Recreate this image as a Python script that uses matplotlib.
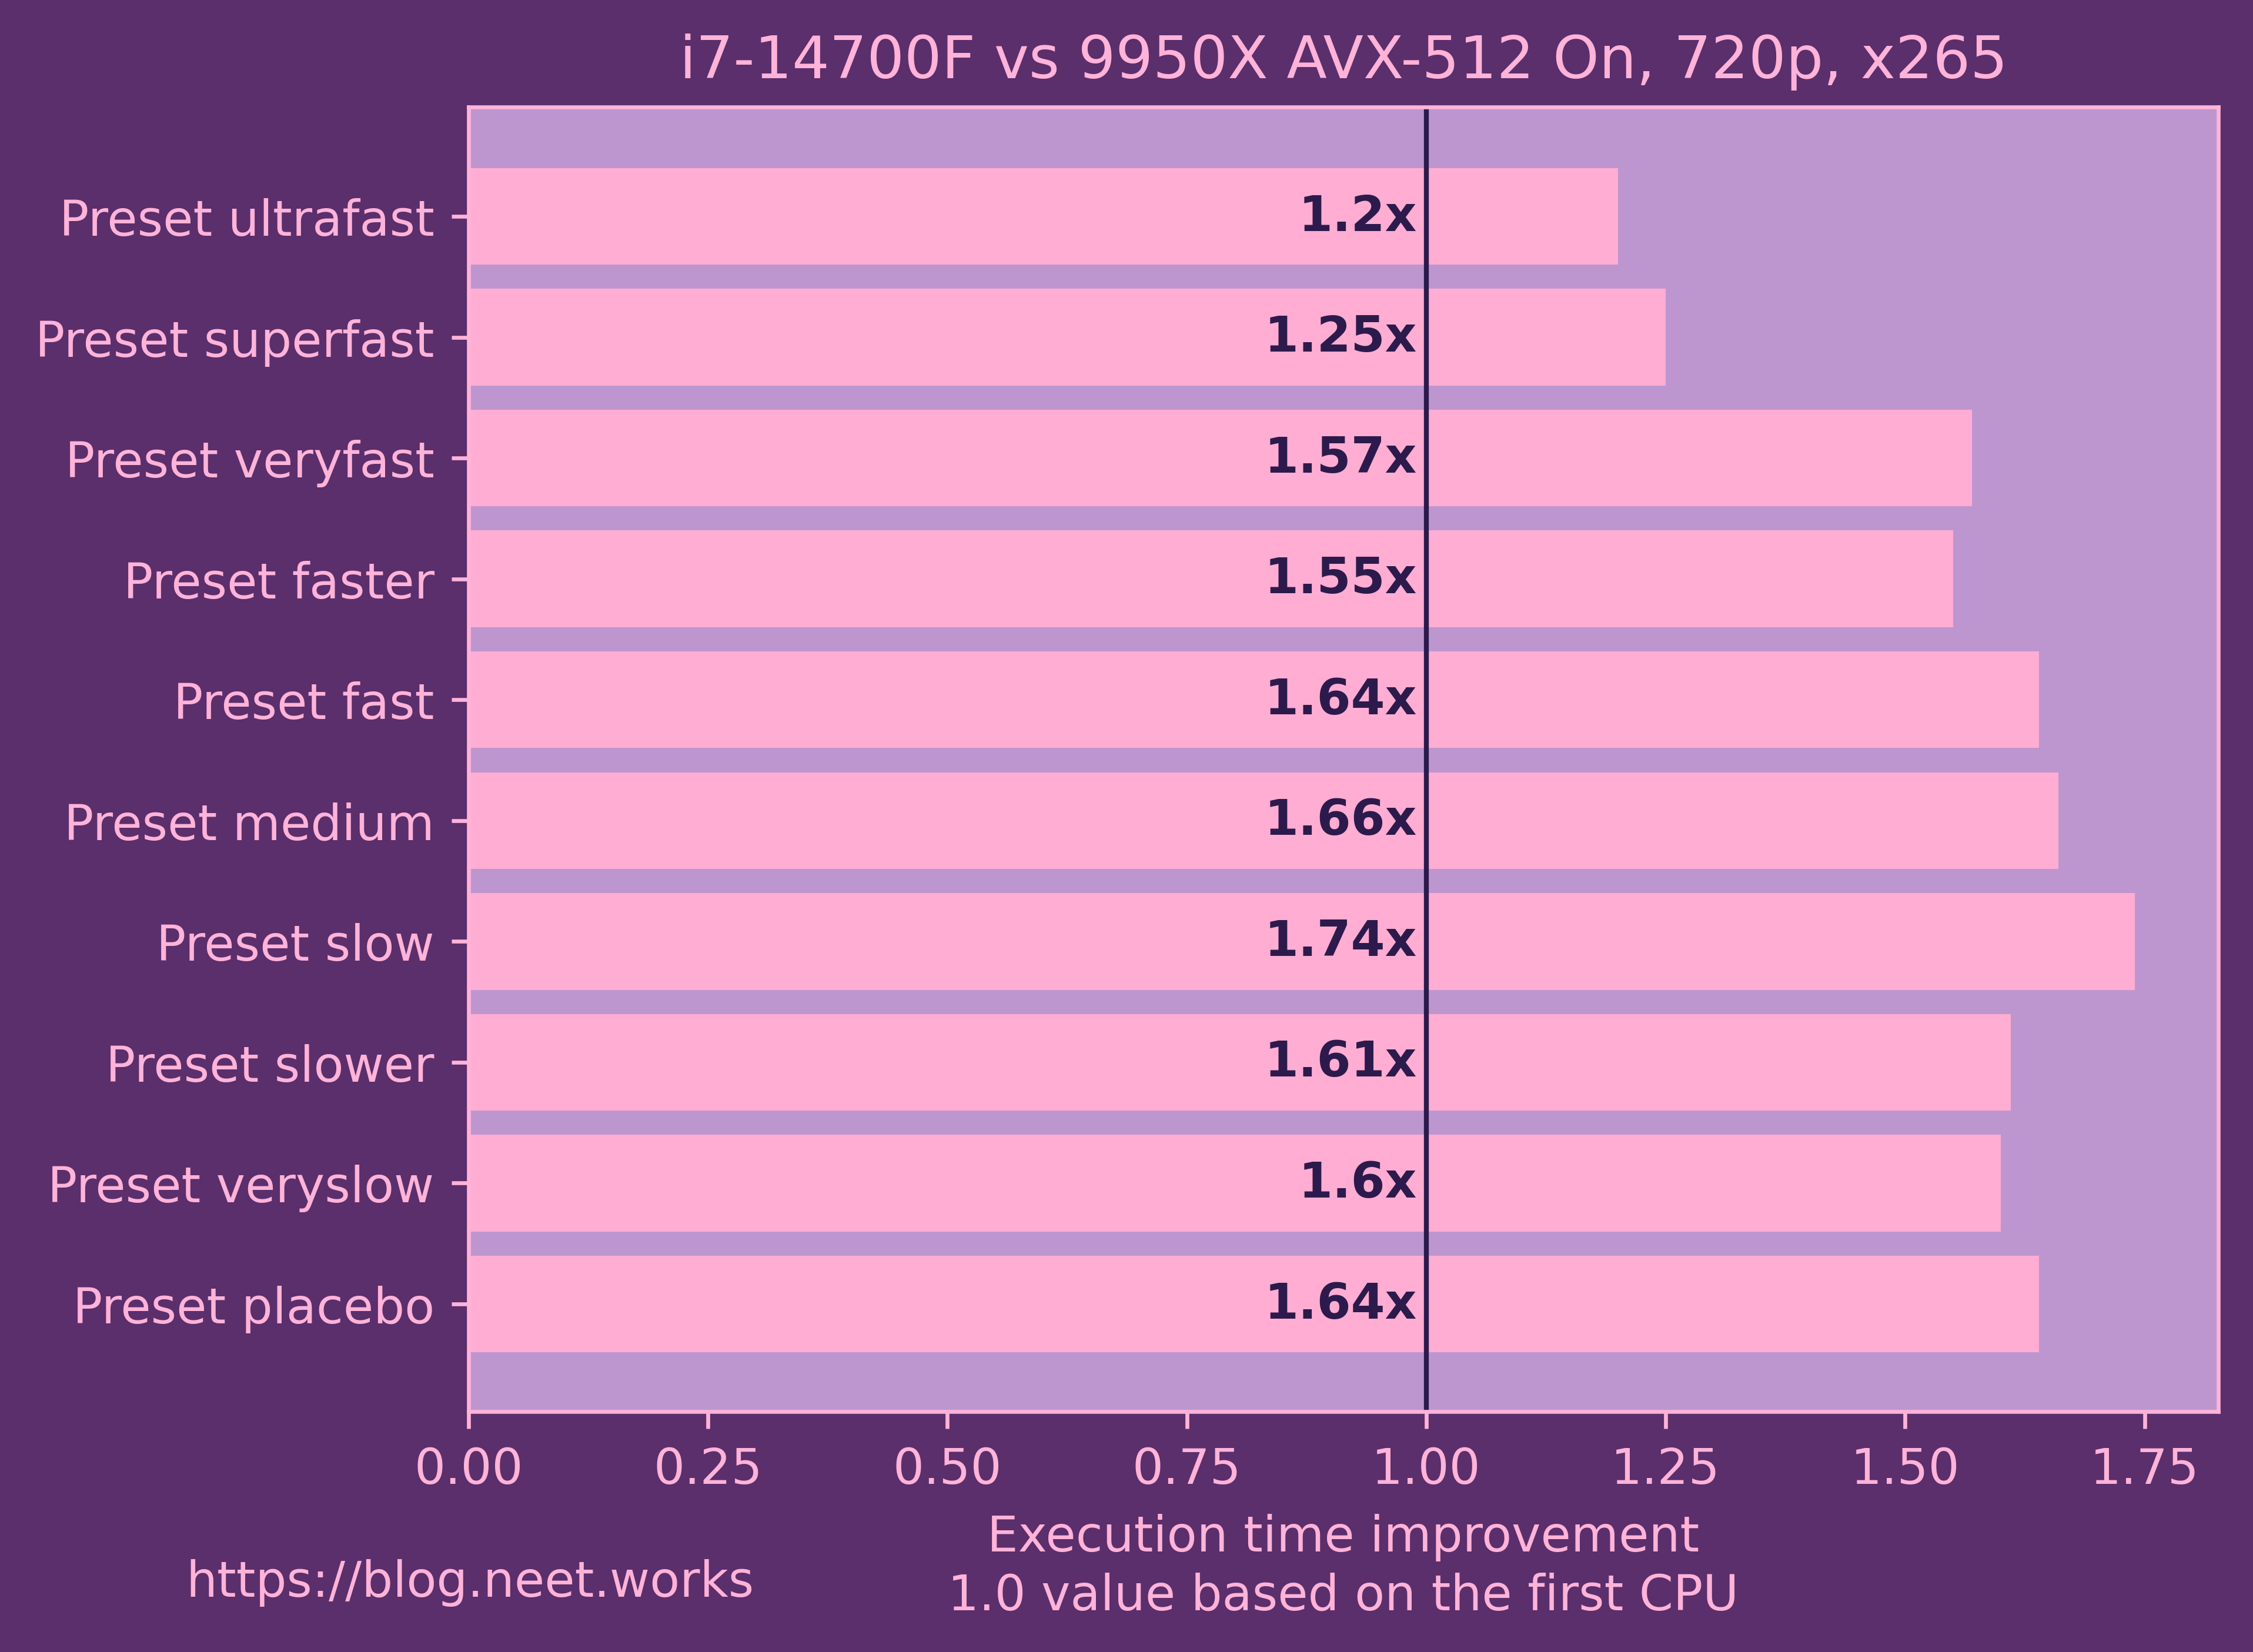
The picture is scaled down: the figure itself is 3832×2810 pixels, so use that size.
"""
x265 preset comparison: i7-14700F vs 9950X (AVX-512 on), 720p
"""

import matplotlib.pyplot as plt

presets = ['Preset ultrafast', 'Preset superfast', 'Preset veryfast',
           'Preset faster', 'Preset fast', 'Preset medium', 'Preset slow',
           'Preset slower', 'Preset veryslow', 'Preset placebo']
improvement = [1.2, 1.25, 1.57, 1.55, 1.64, 1.66, 1.74, 1.61, 1.6, 1.64]
bar_labels = ['1.2x', '1.25x', '1.57x', '1.55x', '1.64x', '1.66x', '1.74x',
              '1.61x', '1.6x', '1.64x']

BG = '#5b2e6c'
FACE = '#be96cf'
BAR = '#ffadd2'
TEXT = '#ffb3d8'
DARK = '#2c1a4c'

plt.rcParams['font.family'] = 'DejaVu Sans'

fig = plt.figure(figsize=(3832 / 600, 2811 / 600), dpi=600, facecolor=BG)
ax = fig.add_axes([0.208, 0.1455, 0.7766, 0.7894])
ax.set_facecolor(FACE)

ypos = list(range(len(presets)))
ax.barh(ypos, improvement, height=0.8, color=BAR)
ax.axvline(1.0, color=DARK, linewidth=1.0)

# labels sit just left of the 1.0 reference line
for y, lab in zip(ypos, bar_labels):
    ax.text(0.99, y, lab, ha='right', va='center', fontsize=10,
            fontweight='bold', color=DARK)

ax.set_yticks(ypos)
ax.set_yticklabels(presets)
ax.set_ylim(len(presets) - 1 + 0.89, -0.905)
ax.set_xticks([0.0, 0.25, 0.5, 0.75, 1.0, 1.25, 1.5, 1.75])
ax.set_xticklabels(['0.00', '0.25', '0.50', '0.75', '1.00', '1.25', '1.50', '1.75'])

for s in ax.spines.values():
    s.set_color(TEXT)
ax.tick_params(colors=TEXT, labelsize=10)

ax.set_title('i7-14700F vs 9950X AVX-512 On, 720p, x265', color=TEXT, fontsize=12)
ax.set_xlabel('Execution time improvement\n1.0 value based on the first CPU',
              color=TEXT, fontsize=10, linespacing=1.3)

fig.text(0.2086, 0.042, 'https://blog.neet.works', color=TEXT, fontsize=10,
         ha='center', va='center')

fig.savefig('out.png', dpi=600, facecolor=BG)
plt.close(fig)
